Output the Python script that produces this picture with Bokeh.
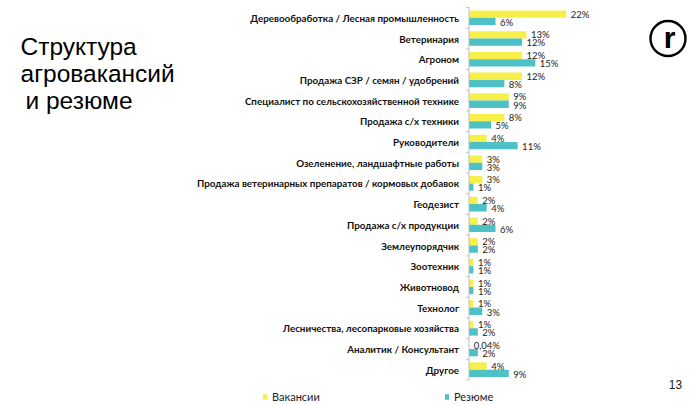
from bokeh.plotting import figure
from bokeh.models import ColumnDataSource, Range1d, Legend, LegendItem
from bokeh.embed import file_html
from bokeh.resources import INLINE
from bokeh.core.properties import value

# ---------------- data ----------------
categories = [
    "Деревообработка / Лесная промышленность",
    "Ветеринария",
    "Агроном",
    "Продажа СЗР / семян / удобрений",
    "Специалист по сельскохозяйственной технике",
    "Продажа с/х техники",
    "Руководители",
    "Озеленение, ландшафтные работы",
    "Продажа ветеринарных препаратов / кормовых добавок",
    "Геодезист",
    "Продажа с/х продукции",
    "Землеупорядчик",
    "Зоотехник",
    "Животновод",
    "Технолог",
    "Лесничества, лесопарковые хозяйства",
    "Аналитик / Консультант",
    "Другое",
]
vacancies = [22, 13, 12, 12, 9, 8, 4, 3, 3, 2, 2, 2, 1, 1, 1, 1, 0.04, 4]
resumes = [6, 12, 15, 8, 9, 5, 11, 3, 1, 4, 6, 2, 1, 1, 3, 2, 2, 9]
series_names = ["Вакансии", "Резюме"]
title_lines = ["Структура", "агровакансий", "и резюме"]
logo_text = "r"
page_number = "13"

# ---------------- layout constants ----------------
W, H = 695, 405
AXIS_PX = 468.5        # pixel x of the 0 % axis
PX_PER_PCT = 4.42      # pixels per percent
ROW0_PX = 17.3         # pixel y of first row center
ROW_STEP = 20.7        # pixel distance between rows

def px_x(px):
    return (px - AXIS_PX) / PX_PER_PCT

def px_y(py):
    return (py - ROW0_PX) / ROW_STEP

def fmt(v):
    s = ("%g" % v).replace(".", ",")
    return s + "%"

YELLOW = "#F7F04A"
TEAL = "#4DC1C6"

n = len(categories)
idx = list(range(n))
bar_h = 7.3 / ROW_STEP

src = ColumnDataSource(dict(
    cat=categories,
    y=idx,
    y_vac=[i - bar_h / 2 for i in idx],
    y_res=[i + bar_h / 2 for i in idx],
    vac=vacancies,
    res=resumes,
    vac_lbl=[fmt(v) for v in vacancies],
    res_lbl=[fmt(v) for v in resumes],
    vac_lx=[v + 4.5 / PX_PER_PCT for v in vacancies],
    res_lx=[v + 4.5 / PX_PER_PCT for v in resumes],
    res_ly=[i + bar_h / 2 + 0.04 for i in idx],
))

p = figure(
    width=W, height=H,
    x_range=Range1d(px_x(0), px_x(W)),
    y_range=Range1d(px_y(H), px_y(0)),
    output_backend="svg", toolbar_location=None,
    x_axis_location=None, y_axis_location=None,
    min_border=0, outline_line_color=None,
    background_fill_color="white", border_fill_color="white",
)
p.grid.visible = False

# bars
r_vac = p.hbar(y="y_vac", left=0, right="vac", height=bar_h, source=src,
               fill_color=YELLOW, line_color=None)
r_res = p.hbar(y="y_res", left=0, right="res", height=bar_h, source=src,
               fill_color=TEAL, line_color=None)

# axis line and ticks
p.segment(x0=0, y0=-0.5, x1=0, y1=n - 0.5, line_color="#BFBFBF", line_width=1)
tick_y = [i - 0.5 for i in range(n + 1)]
p.segment(x0=[-3 / PX_PER_PCT] * len(tick_y), y0=tick_y, x1=[0] * len(tick_y), y1=tick_y,
          line_color="#BFBFBF", line_width=1)

# category labels
p.text(x=px_x(AXIS_PX - 10), y="y", text="cat", source=src,
       text_align="right", text_baseline="middle",
       text_font=value("Lato"), text_font_style="bold",
       text_font_size="9.8px", text_color="#111111")

# value labels
p.text(x="vac_lx", y="y_vac", text="vac_lbl", source=src,
       text_align="left", text_baseline="middle",
       text_font=value("Lato"), text_font_size="9.5px", text_color="#222222")
p.text(x="res_lx", y="res_ly", text="res_lbl", source=src,
       text_align="left", text_baseline="middle",
       text_font=value("Lato"), text_font_size="9.5px", text_color="#222222")

# title
title_px_x = [20, 20, 25]
title_px_y = [46, 73, 100]
p.text(x=[px_x(v) for v in title_px_x], y=[px_y(v) for v in title_px_y], text=title_lines,
       text_align="left", text_baseline="middle",
       text_font=value("Liberation Sans"), text_font_size="24.5px", text_color="#000000")

# logo
p.scatter(x=[px_x(667.5)], y=[px_y(38)], marker="circle", size=35,
          fill_color=None, line_color="#000000", line_width=2.4)
p.text(x=[px_x(669)], y=[px_y(37)], text=[logo_text], text_align="center",
       text_baseline="middle", text_font=value("Liberation Sans"),
       text_font_style="bold", text_font_size="30px", text_color="#000000")

# page number
p.text(x=[px_x(675)], y=[px_y(384)], text=[page_number], text_align="center",
       text_baseline="middle", text_font=value("Liberation Sans"),
       text_font_size="12px", text_color="#222222")

# legends
for rend, name, loc in [(r_vac, series_names[0], (262, 2)), (r_res, series_names[1], (444, 2))]:
    lg = Legend(items=[LegendItem(label=name, renderers=[rend])], location=loc,
                orientation="horizontal", glyph_width=5, glyph_height=7,
                label_standoff=5, padding=0, margin=0, spacing=0,
                border_line_color=None, background_fill_alpha=0,
                label_text_font="Lato", label_text_font_size="11px",
                label_text_color="#222222", label_height=14)
    p.add_layout(lg)

open("out.html", "w").write(file_html(p, INLINE))
